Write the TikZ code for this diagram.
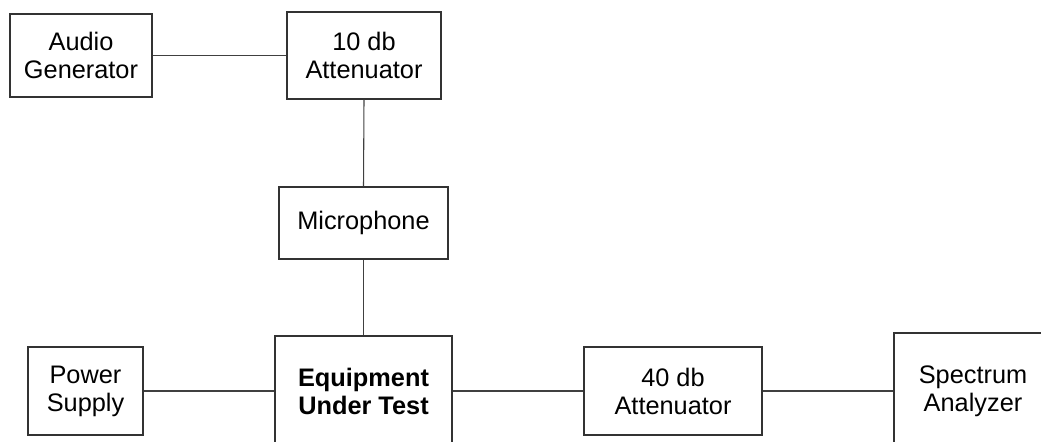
\documentclass[tikz,border=0pt]{standalone}
\usepackage{fontspec}
\setmainfont{Liberation Sans}
\usepackage{tikz}

\tikzset{
    unit/.style={draw=black!80, line width=0.8pt, fill=white, align=center,
        inner sep=0pt, font=\fontsize{19}{21}\selectfont},
    wire/.style={draw=black!75, line width=0.8pt}
}

\begin{document}
\begin{tikzpicture}[x=0.75pt, y=-0.75pt]
    % Frame
    \useasboundingbox (0,0) rectangle (1041,442);
    \clip (0,0) rectangle (1041,442);

    % Top row
    \node[unit, minimum width=142*0.75pt, minimum height=83*0.75pt] (gen) at (81,55.5) {Audio\\Generator};
    \node[unit, minimum width=154*0.75pt, minimum height=87*0.75pt] (att10) at (364,55.5) {10 db\\Attenuator};

    % Middle
    \node[unit, minimum width=169*0.75pt, minimum height=72*0.75pt] (mic) at (363.5,223) {Microphone};

    % Bottom row
    \node[unit, minimum width=115*0.75pt, minimum height=88*0.75pt] (psu) at (85.5,391) {Power\\Supply};
    \node[unit, minimum width=177*0.75pt, minimum height=110*0.75pt, font=\fontsize{19}{21}\selectfont\bfseries] (eut) at (363.5,391) {Equipment\\Under Test};
    \node[unit, minimum width=178*0.75pt, minimum height=88*0.75pt] (att40) at (673,391) {40 db\\Attenuator};
    \node[unit, minimum width=158*0.75pt, minimum height=116*0.75pt] (sa) at (973,391) {Spectrum\\Analyzer};

    % Connections
    \draw[wire] (gen.east) -- (gen.east -| att10.west);
    \draw[wire] (att10.south) -- (mic.north);
    \draw[wire] (mic.south) -- (eut.north);
    \draw[wire] (psu.east) -- (eut.west);
    \draw[wire] (eut.east) -- (att40.west);
    \draw[wire] (att40.east) -- (sa.west);

\end{tikzpicture}
\end{document}
